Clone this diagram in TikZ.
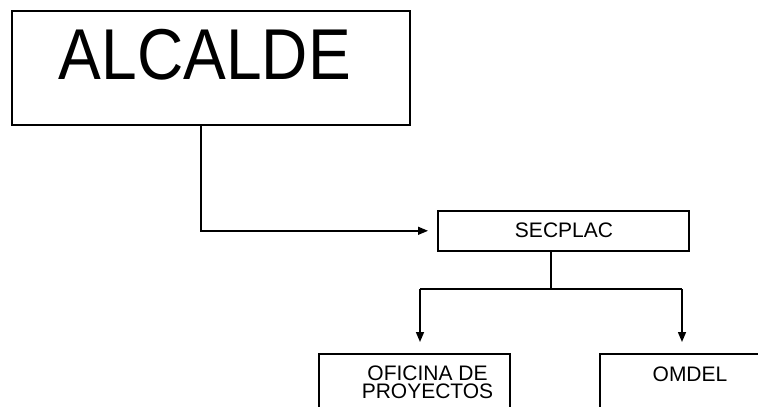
\documentclass[tikz,border=0pt]{standalone}
\usepackage{fontspec}
\setmainfont{Liberation Sans}
\usetikzlibrary{arrows.meta,calc}
\begin{document}
\begin{tikzpicture}[x=1pt,y=-1pt,
  box/.style={draw=black,line width=1.6pt,fill=white,inner sep=0pt,anchor=north west},
  lbl/.style={inner sep=0pt,font=\fontsize{21}{18}\selectfont,align=center},
  link/.style={draw=black,line width=1.5pt},
  arr/.style={link,-{Triangle[length=10pt,width=8pt]}}]
\useasboundingbox (0,0) rectangle (758,407);
\clip (0,0) rectangle (758,407);
\fill[white] (0,0) rectangle (758,407);
% boxes
\node[box,minimum width=398pt,minimum height=114pt] (alc) at (11,10) {};
\node[box,minimum width=251pt,minimum height=40pt] (sec) at (437,210) {};
\node[box,minimum width=191pt,minimum height=90pt] (ofi) at (318,353) {};
\node[box,minimum width=191pt,minimum height=90pt] (omd) at (599,353) {};
% labels
\node[inner sep=0pt,anchor=base,font=\fontsize{72}{72}\selectfont] (alct) at (205,79) {\scalebox{0.89}[1]{ALCALDE}};
\node[lbl,anchor=base] (sect) at (564,237) {SECPLAC};
\node[lbl,anchor=center] (ofit) at (427.5,382) {OFICINA DE\\PROYECTOS};
\node[lbl,anchor=base] (omdt) at (690,381) {OMDEL};
% connectors
\coordinate (alcout) at ($(alc.south)+(-10,0)$);
\draw[arr,shorten >=9pt] (alcout) |- (sec.west);
\coordinate (secout) at ($(sec.south)+(-12.5,0)$);
\coordinate (bus) at (secout |- 0,289);
\coordinate (busL) at (420,289);
\coordinate (busR) at (682,289);
\draw[link] (secout) -- (bus);
\draw[link] (busL) -- (busR);
\draw[arr,shorten >=11pt] (busL) -- (busL |- ofi.north);
\draw[arr,shorten >=11pt] (busR) -- (busR |- omd.north);
\end{tikzpicture}
\end{document}
